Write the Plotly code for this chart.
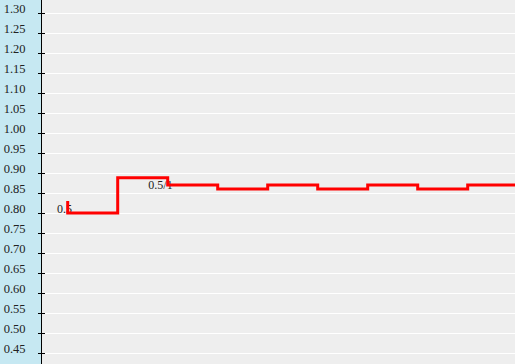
import plotly.graph_objects as go

# Data
step_x = [0, 1, 2, 3, 4, 5, 6, 7, 8, 9]
step_y = [0.83, 0.80, 0.888, 0.87, 0.86, 0.87, 0.86, 0.87, 0.86, 0.87]

label_text = ["0.5", "0.5/1"]
label_x = [-0.064, 1.856]
label_y = [0.807, 0.867]

y_tick_vals = [round(0.45 + 0.05 * i, 2) for i in range(18)]
y_tick_text = [f"{v:.2f}" for v in y_tick_vals]

FONT = "Liberation Serif, Times New Roman, serif"

fig = go.Figure()

# labels (drawn beneath the line)
fig.add_trace(go.Scatter(
    x=label_x, y=label_y, text=label_text, mode="text",
    textposition="middle center",
    textfont=dict(family=FONT, size=12, color="#222222"),
    hoverinfo="skip", showlegend=False,
))

fig.add_trace(go.Scatter(
    x=step_x, y=step_y, mode="lines",
    line=dict(color="#ff0000", width=3, shape="vh"),
    showlegend=False,
))

# invisible trace for the second (inside ticks) axis
fig.add_trace(go.Scatter(
    x=[step_x[0]], y=[step_y[0]], mode="markers", yaxis="y2",
    marker=dict(opacity=0), hoverinfo="skip", showlegend=False,
))

yr = [0.4225, 1.3325]

fig.update_layout(
    width=515, height=364,
    margin=dict(l=42, r=0, t=0, b=0),
    paper_bgcolor="rgb(198,232,242)",
    plot_bgcolor="#eeeeee",
    xaxis=dict(range=[-0.514, 8.946], visible=False, showgrid=False, zeroline=False),
    yaxis=dict(
        range=yr, tickmode="array", tickvals=y_tick_vals, ticktext=y_tick_text,
        showgrid=True, gridcolor="#ffffff", gridwidth=1, zeroline=False,
        showline=True, linecolor="#000000", linewidth=1,
        ticks="outside", ticklen=3, tickcolor="#000000", tickwidth=1,
        ticklabelstandoff=10, ticklabelshift=-4,
        tickfont=dict(family=FONT, size=12.5, color="#222222"),
    ),
    yaxis2=dict(
        range=yr, overlaying="y", side="left", anchor="x",
        tickmode="array", tickvals=y_tick_vals, showticklabels=False,
        showgrid=False, zeroline=False, showline=False,
        ticks="inside", ticklen=3, tickcolor="#000000", tickwidth=1,
    ),
)

fig.write_html("out.html")
